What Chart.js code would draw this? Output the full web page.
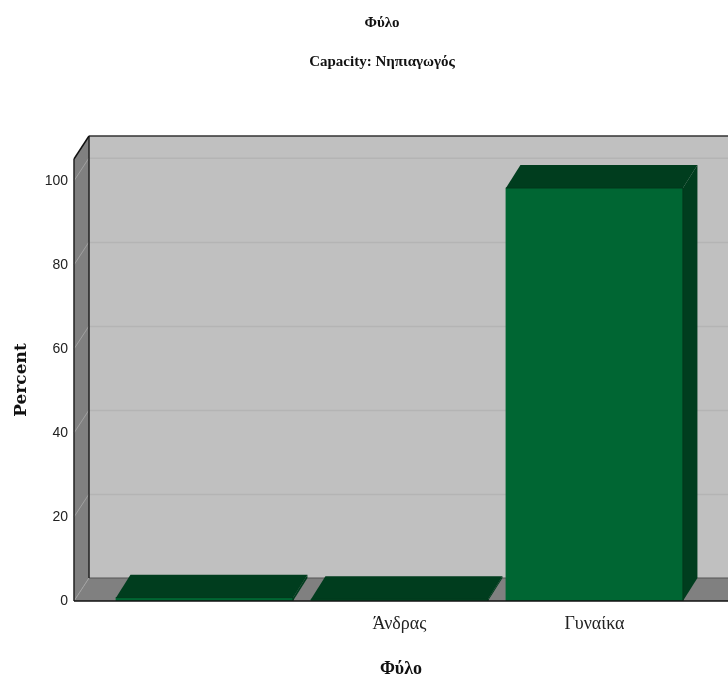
<!DOCTYPE html>
<html lang="el">
<head>
<meta charset="utf-8">
<style>html,body{margin:0;padding:0;background:#fff}canvas{display:block}</style>
<script src="https://cdn.jsdelivr.net/npm/chart.js@4/dist/chart.umd.min.js"></script>
</head>
<body>
<canvas id="c" width="728" height="675"></canvas>
<script>
const categories = ['', 'Άνδρας', 'Γυναίκα'];
const percentValues = [0.8, 0.4, 98.3];
const yTicks = [0, 20, 40, 60, 80, 100];
const yTop = 105.2;
const xMin = -0.669, xMax = 2.685;
const titleText = 'Φύλο';
const subtitleText = 'Capacity: Νηπιαγωγός';
const xTitleText = 'Φύλο';
const yTitleText = 'Percent';
const DX = 15, DY = 23, BAR_DX = 14.5, BAR_DY = 23;
const TITLE_LEFT = 36;

function poly(ctx, pts, fill) {
  ctx.beginPath();
  pts.forEach((p, i) => i ? ctx.lineTo(p[0], p[1]) : ctx.moveTo(p[0], p[1]));
  ctx.closePath();
  ctx.fillStyle = fill;
  ctx.fill();
}
function line(ctx, a, b, color, w) {
  ctx.beginPath();
  ctx.moveTo(a[0], a[1]);
  ctx.lineTo(b[0], b[1]);
  ctx.strokeStyle = color;
  ctx.lineWidth = w;
  ctx.stroke();
}

const box3d = {
  id: 'box3d',
  afterLayout(chart) {
    chart.boxes.forEach(b => {
      if (b.options && typeof b.options.text === 'string' && !b.axis) b.left = TITLE_LEFT;
    });
  },
  beforeDatasetsDraw(chart) {
    const { ctx, chartArea: a, scales: { y } } = chart;
    const L = a.left, R = a.right, T = a.top, B = a.bottom;
    ctx.save();
    poly(ctx, [[L + DX, T - DY], [R, T - DY], [R, B - DY], [L + DX, B - DY]], '#c0c0c0');
    poly(ctx, [[L, T], [L + DX, T - DY], [L + DX, B - DY], [L, B]], '#808080');
    poly(ctx, [[L, B], [L + DX, B - DY], [R, B - DY], [R, B]], '#808080');
    yTicks.filter(v => v > 0).forEach(v => {
      const py = y.getPixelForValue(v);
      line(ctx, [L + DX, py - DY + 0.5], [R, py - DY + 0.5], '#b4b4b4', 1.5);
      line(ctx, [L, py], [L + DX, py - DY], '#a0a0a0', 1);
    });
    line(ctx, [L, B], [L + DX, B - DY], '#a0a0a0', 1);
    line(ctx, [L + DX, B - DY], [R, B - DY], '#555555', 1);
    line(ctx, [L + DX, T - DY], [R, T - DY], '#333333', 1.5);
    line(ctx, [L + DX, T - DY], [L + DX, B - DY], '#222222', 1.5);
    line(ctx, [L, T], [L + DX, T - DY], '#111111', 1.5);
    line(ctx, [L, T], [L, B], '#222222', 1.5);
    ctx.restore();
  },
  afterDatasetsDraw(chart) {
    const { ctx, chartArea: a } = chart;
    ctx.save();
    chart.getDatasetMeta(0).data.forEach(bar => {
      const l = bar.x - bar.width / 2, r = bar.x + bar.width / 2, t = bar.y, b = bar.base;
      poly(ctx, [[l, t], [l + BAR_DX, t - BAR_DY], [r + BAR_DX, t - BAR_DY], [r, t]], '#003d1e');
      poly(ctx, [[r, t], [r + BAR_DX, t - BAR_DY], [r + BAR_DX, b - BAR_DY], [r, b]], '#003d1e');
      line(ctx, [l, t], [r, t], '#02381c', 1);
      line(ctx, [r, t], [r, b], '#02381c', 1);
    });
    line(ctx, [a.left, a.bottom], [a.right, a.bottom], '#111111', 1.5);
    ctx.restore();
  }
};

new Chart(document.getElementById('c'), {
  type: 'bar',
  data: {
    datasets: [{
      data: percentValues.map((v, i) => ({ x: i, y: v })),
      backgroundColor: '#006633',
      barThickness: 177
    }]
  },
  plugins: [box3d],
  options: {
    responsive: false,
    animation: false,
    layout: { padding: 0 },
    plugins: {
      legend: { display: false },
      tooltip: { enabled: false },
      title: {
        display: true, text: titleText, color: '#111',
        font: { family: 'Liberation Serif', size: 15, weight: 'bold' },
        padding: { top: 14, bottom: 0 }
      },
      subtitle: {
        display: true, text: subtitleText, color: '#111',
        font: { family: 'Liberation Serif', size: 15, weight: 'bold' },
        padding: { top: 21, bottom: 88 }
      }
    },
    scales: {
      x: {
        type: 'linear', min: xMin, max: xMax, offset: false,
        border: { display: false }, grid: { display: false },
        afterBuildTicks(s) { s.ticks = categories.map((c, i) => ({ value: i })); },
        afterFit(s) { s.height = 74; },
        ticks: {
          autoSkip: false, maxRotation: 0, padding: 4, color: '#222',
          font: { family: 'Liberation Serif', size: 18 },
          callback: v => categories[v]
        },
        title: {
          display: true, text: xTitleText, color: '#111',
          font: { family: 'Liberation Serif', size: 18, weight: 'bold' },
          padding: { top: 24, bottom: -5 }
        }
      },
      y: {
        min: 0, max: yTop,
        border: { display: false }, grid: { display: false },
        afterBuildTicks(s) { s.ticks = yTicks.map(v => ({ value: v })); },
        afterFit(s) { s.width = 74; },
        ticks: {
          padding: -2, color: '#222',
          font: { family: 'Liberation Sans', size: 14 }
        },
        title: {
          display: true, text: yTitleText, color: '#111',
          font: { family: 'DejaVu Serif', size: 17, weight: 'bold' },
          padding: { top: 11, bottom: 0 }
        }
      }
    }
  }
});
</script>
</body>
</html>
